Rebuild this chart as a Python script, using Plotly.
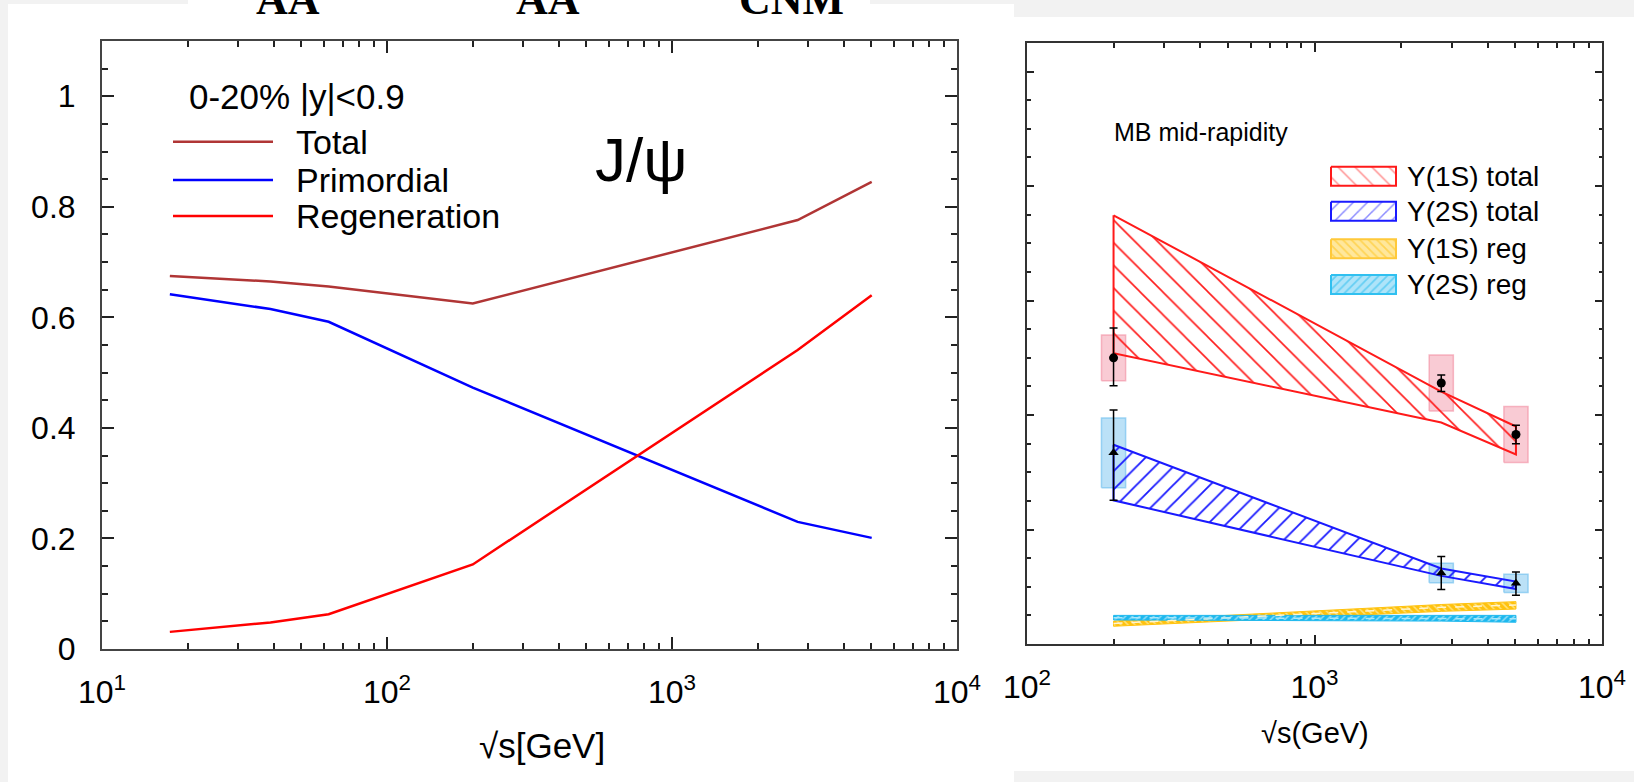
import plotly.graph_objects as go

W, H = 1634, 782

# ---------------- data: left panel (J/psi, 0-20%, |y|<0.9) ----------------
jpsi_sqrt_s = [17.3, 39, 62.4, 200, 2760, 5020]
jpsi_total = [0.675, 0.665, 0.656, 0.625, 0.776, 0.845]
jpsi_primordial = [0.642, 0.615, 0.592, 0.473, 0.230, 0.201]
jpsi_regeneration = [0.031, 0.048, 0.063, 0.153, 0.541, 0.640]

left_yticks = [0, 0.2, 0.4, 0.6, 0.8, 1.0]
left_yticklabels = ["0", "0.2", "0.4", "0.6", "0.8", "1"]
left_xticks = [10, 100, 1000, 10000]
left_xticklabels = ["10<sup>1</sup>", "10<sup>2</sup>", "10<sup>3</sup>", "10<sup>4</sup>"]

# ---------------- data: right panel (Upsilon, MB mid-rapidity) ----------------
ups_sqrt_s = [200, 2760, 5020]
ups1s_total_hi = [0.749, 0.441, 0.380]
ups1s_total_lo = [0.508, 0.387, 0.331]
ups2s_total_hi = [0.348, 0.132, 0.109]
ups2s_total_lo = [0.251, 0.119, 0.096]
ups1s_reg_hi = [0.040, 0.069, 0.074]
ups1s_reg_lo = [0.031, 0.057, 0.061]
ups1s_reg_mid = [0.036, 0.064, 0.068]
ups2s_reg_hi = [0.050, 0.050, 0.050]
ups2s_reg_lo = [0.042, 0.040, 0.038]
ups2s_reg_mid = [0.046, 0.045, 0.044]

ups1s_data = [0.500, 0.456, 0.366]
ups1s_stat_up = [0.052, 0.014, 0.016]
ups1s_stat_dn = [0.049, 0.015, 0.016]
ups1s_sys = [0.040, 0.049, 0.049]
ups2s_data = [0.334, 0.124, 0.106]
ups2s_stat_up = [0.075, 0.029, 0.020]
ups2s_stat_dn = [0.083, 0.029, 0.021]
ups2s_sys = [0.061, 0.017, 0.016]

right_xticks = [100, 1000, 10000]
right_xticklabels = ["10<sup>2</sup>", "10<sup>3</sup>", "10<sup>4</sup>"]

# ---------------- style helpers ----------------
SANS = "Liberation Sans, Arial, sans-serif"
NARROW = "Liberation Sans Narrow, Arial Narrow, Liberation Sans, sans-serif"
SERIF = "Liberation Serif, Times New Roman, serif"
BOX_HW = 0.042  # half width of systematic boxes, in decades


def px(xp):
    return xp / W


def py(yp):
    return 1 - yp / H


def band(x, lo, hi, color, shape, size, solidity, xa, ya, bg="rgba(0,0,0,0)", fg=None, width=2):
    xs = list(x) + list(x)[::-1] + [x[0]]
    ys = list(hi) + list(lo)[::-1] + [hi[0]]
    return go.Scatter(
        x=xs, y=ys, mode="lines", fill="toself", fillcolor=bg,
        line=dict(color=color, width=width),
        fillpattern=dict(shape=shape, size=size, solidity=solidity,
                         fgcolor=fg or color, bgcolor=bg, fillmode="replace"),
        xaxis=xa, yaxis=ya, hoverinfo="skip", showlegend=False,
    )


def sys_boxes(xc, yc, dy, fill, line):
    xs, ys = [], []
    for x, y, d in zip(xc, yc, dy):
        x0, x1 = x * 10 ** (-BOX_HW), x * 10 ** BOX_HW
        xs += [x0, x1, x1, x0, x0, None]
        ys += [y - d, y - d, y + d, y + d, y - d, None]
    return go.Scatter(x=xs, y=ys, mode="lines", fill="toself", fillcolor=fill,
                      line=dict(color=line, width=1.5), xaxis="x2", yaxis="y2",
                      hoverinfo="skip", showlegend=False)


fig = go.Figure()

# left panel curves
for vals, col in [(jpsi_total, "#b03535"), (jpsi_primordial, "#0000ff"), (jpsi_regeneration, "#ff0000")]:
    fig.add_trace(go.Scatter(x=jpsi_sqrt_s, y=vals, mode="lines",
                             line=dict(color=col, width=2.5), xaxis="x", yaxis="y",
                             showlegend=False))

# right panel: systematic boxes
fig.add_trace(sys_boxes(ups_sqrt_s, ups1s_data, ups1s_sys, "rgba(242,140,160,0.45)", "rgba(242,140,160,0.6)"))
fig.add_trace(sys_boxes(ups_sqrt_s, ups2s_data, ups2s_sys, "rgba(120,195,240,0.5)", "rgba(120,195,240,0.7)"))

# right panel: bands
fig.add_trace(band(ups_sqrt_s, ups1s_total_lo, ups1s_total_hi, "#ff1a1a", "\\", 16, 0.1, "x2", "y2"))
fig.add_trace(band(ups_sqrt_s, ups2s_total_lo, ups2s_total_hi, "#1a1aff", "/", 13, 0.14, "x2", "y2"))
fig.add_trace(band(ups_sqrt_s, ups1s_reg_lo, ups1s_reg_hi, "#ffc20e", "\\", 5, 0.3, "x2", "y2",
                   bg="#ffc20e", fg="#ffe27a", width=1))
fig.add_trace(band(ups_sqrt_s, ups2s_reg_lo, ups2s_reg_hi, "#1cb8ee", "/", 5, 0.3, "x2", "y2",
                   bg="#1cb8ee", fg="#8fdcf7", width=1))
fig.add_trace(go.Scatter(x=ups_sqrt_s, y=ups1s_reg_mid, mode="lines",
                         line=dict(color="#fff4d0", width=1.5, dash="dash"),
                         xaxis="x2", yaxis="y2", showlegend=False))
fig.add_trace(go.Scatter(x=ups_sqrt_s, y=ups2s_reg_mid, mode="lines",
                         line=dict(color="#a8e6fa", width=1.5, dash="dash"),
                         xaxis="x2", yaxis="y2", showlegend=False))

# right panel: data points
fig.add_trace(go.Scatter(x=ups_sqrt_s, y=ups1s_data, mode="markers",
                         marker=dict(symbol="circle", size=9, color="black"),
                         error_y=dict(type="data", symmetric=False, array=ups1s_stat_up,
                                      arrayminus=ups1s_stat_dn, color="black", thickness=1.5, width=4),
                         xaxis="x2", yaxis="y2", showlegend=False))
fig.add_trace(go.Scatter(x=ups_sqrt_s, y=ups2s_data, mode="markers",
                         marker=dict(symbol="triangle-up", size=9, color="black"),
                         error_y=dict(type="data", symmetric=False, array=ups2s_stat_up,
                                      arrayminus=ups2s_stat_dn, color="black", thickness=1.5, width=4),
                         xaxis="x2", yaxis="y2", showlegend=False))

# right legend swatches (drawn on a pixel overlay axis)
sw_x0, sw_x1, sw_h = 1331, 1396, 19
swatches = [
    (176.2, "#ff1a1a", "\\", 12, 0.12, "rgba(0,0,0,0)", None),
    (211.3, "#1a1aff", "/", 10, 0.15, "rgba(0,0,0,0)", None),
    (248.7, "#ffc93a", "\\", 6, 0.3, "rgba(255,215,90,0.6)", "#ffc20e"),
    (284.5, "#30c0f0", "/", 6, 0.3, "rgba(120,210,245,0.6)", "#1cb8ee"),
]
for yc, col, shp, sz, sol, bg, fg in swatches:
    fig.add_trace(go.Scatter(
        x=[sw_x0, sw_x1, sw_x1, sw_x0, sw_x0],
        y=[yc - sw_h / 2, yc - sw_h / 2, yc + sw_h / 2, yc + sw_h / 2, yc - sw_h / 2],
        mode="lines", fill="toself", fillcolor=bg, line=dict(color=col, width=2),
        fillpattern=dict(shape=shp, size=sz, solidity=sol, fgcolor=fg or col, bgcolor=bg),
        xaxis="x3", yaxis="y3", hoverinfo="skip", showlegend=False))

axis_common = dict(showline=True, linewidth=2, mirror="ticks", ticks="inside",
                   showgrid=False, zeroline=False, tickcolor="#222", automargin=False)

fig.update_layout(
    width=W, height=H,
    margin=dict(l=0, r=0, t=0, b=0, pad=0, autoexpand=False),
    paper_bgcolor="#f2f2f2",
    plot_bgcolor="rgba(0,0,0,0)",
    showlegend=False,
    xaxis=dict(**axis_common, type="log", range=[1, 4], domain=[px(102), px(957)], anchor="y",
               linecolor="#444", ticklen=12, tickwidth=1.5,
               tickmode="array", tickvals=left_xticks, ticktext=left_xticklabels,
               tickfont=dict(family=SANS, size=32, color="black"), ticklabelstandoff=14,
               minor=dict(ticks="inside", ticklen=6, tickwidth=1.5, tickcolor="#222",
                          tickvals=[m * d for d in [10, 100, 1000] for m in range(2, 10)])),
    yaxis=dict(**axis_common, range=[0, 1.1], domain=[py(649), py(41)], anchor="x",
               linecolor="#444", ticklen=12, tickwidth=1.5,
               tickmode="array", tickvals=left_yticks, ticktext=left_yticklabels,
               tickfont=dict(family=SANS, size=32, color="black"), ticklabelstandoff=18,
               minor=dict(ticks="inside", ticklen=6, tickwidth=1.5, tickcolor="#222",
                          dtick=0.05, tick0=0)),
    xaxis2=dict(**axis_common, type="log", range=[2, 4], domain=[px(1027), px(1602)], anchor="y2",
                linecolor="#333", ticklen=9, tickwidth=1.5,
                tickmode="array", tickvals=right_xticks, ticktext=right_xticklabels,
                tickfont=dict(family=NARROW, size=32, color="black"), ticklabelstandoff=14,
                minor=dict(ticks="inside", ticklen=5, tickwidth=1.5, tickcolor="#222",
                           tickvals=[m * d for d in [100, 1000] for m in range(2, 10)])),
    yaxis2=dict(**axis_common, range=[0, 1.05], domain=[py(644), py(43)], anchor="x2",
                linecolor="#333", ticklen=7, tickwidth=1.5, dtick=0.2, tick0=0,
                showticklabels=False,
                minor=dict(ticks="inside", ticklen=3.5, tickwidth=1.5, tickcolor="#222",
                           dtick=0.05, tick0=0)),
    xaxis3=dict(domain=[0, 1], range=[0, W], visible=False, anchor="y3", fixedrange=True,
                automargin=False),
    yaxis3=dict(domain=[0, 1], range=[H, 0], visible=False, anchor="x3", fixedrange=True,
                automargin=False),
)

# background panels
shapes = [
    dict(type="rect", xref="paper", yref="paper", x0=px(8), x1=px(1014), y0=0, y1=py(4),
         fillcolor="white", line=dict(width=0), layer="below"),
    dict(type="rect", xref="paper", yref="paper", x0=px(188), x1=px(870), y0=py(4), y1=1,
         fillcolor="white", line=dict(width=0), layer="below"),
    dict(type="rect", xref="paper", yref="paper", x0=px(1014), x1=1, y0=py(771), y1=py(17),
         fillcolor="white", line=dict(width=0), layer="below"),
]
# left legend lines
for yl, col in [(141.7, "#b03535"), (180, "#0000ff"), (216, "#ff0000")]:
    shapes.append(dict(type="line", xref="paper", yref="paper", x0=px(173), x1=px(273),
                       y0=py(yl), y1=py(yl), line=dict(color=col, width=2.5)))
fig.update_layout(shapes=shapes)

ann = []


def text(t, x, y, size, family=SANS, xanchor="left", color="black"):
    ann.append(dict(text=t, x=px(x), y=py(y), xref="paper", yref="paper", showarrow=False,
                    xanchor=xanchor, yanchor="middle", font=dict(family=family, size=size, color=color)))


# cut-off header text at the top
for t, xc in [("AA", 288), ("AA", 548), ("CNM", 791)]:
    text("<b>" + t + "</b>", xc, -1, 44, family=SERIF, xanchor="center")

# left panel texts
text("0-20% |y|<0.9", 187, 96, 35)
text("Total", 294, 141.7, 34)
text("Primordial", 294, 180, 34)
text("Regeneration", 294, 216, 34)
text("J/ψ", 641, 160, 62, xanchor="center")
text("√s[GeV]", 542, 745, 35, xanchor="center")

# right panel texts
text("MB mid-rapidity", 1112, 131.7, 25, family=NARROW)
for lbl, yc in [("Υ(1S) total", 176.2), ("Υ(2S) total", 211.3), ("Υ(1S) reg", 248.7), ("Υ(2S) reg", 284.5)]:
    text(lbl, 1405, yc, 28, family=NARROW)
text("√s(GeV)", 1315, 733, 29, family=NARROW, xanchor="center")

fig.update_layout(annotations=ann)

fig.write_html("out.html")
